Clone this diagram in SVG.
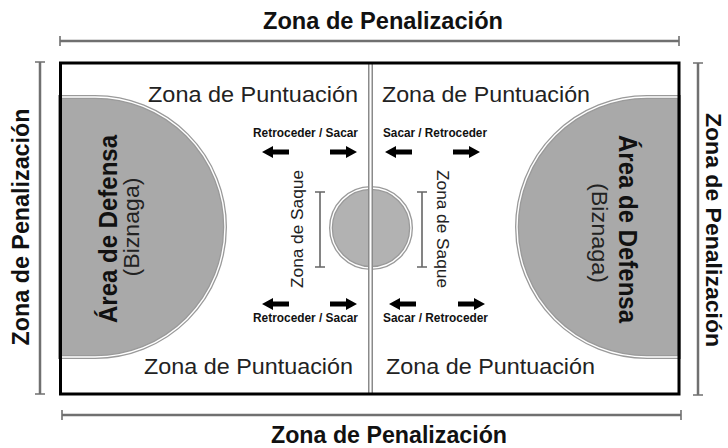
<svg xmlns="http://www.w3.org/2000/svg" xmlns:xlink="http://www.w3.org/1999/xlink" width="728" height="448" viewBox="0 0 728 448">
<style>
.title{font-family:"Liberation Sans",Arial,sans-serif;font-weight:bold;font-size:23px;fill:#111}
.zone{font-family:"Liberation Sans",Arial,sans-serif;font-size:22px;fill:#222}
.saque{font-family:"Liberation Sans",Arial,sans-serif;font-size:16px;fill:#222}
.small{font-family:"Liberation Sans",Arial,sans-serif;font-weight:bold;font-size:12px;fill:#111}
.def{font-family:"Liberation Sans",Arial,sans-serif;font-weight:bold;font-size:25px;fill:#111}
.biz{font-family:"Liberation Sans",Arial,sans-serif;font-size:22px;fill:#222}
.dim{stroke:#707070;stroke-width:2.5;fill:none}
.tick{stroke:#707070;stroke-width:1.6;fill:none}
.brk{stroke:#666;stroke-width:1.6;fill:none}
.shade-out{fill:#a9a9a9;stroke:#9a9a9a;stroke-width:4}
.shade-in{fill:none;stroke:#fff;stroke-width:1.4}
</style>
<defs>
<path id="arr" d="M0,-2.6 H16 V-6 L27,0 L16,6 V2.6 H0 Z" fill="#000"/>
</defs>
<rect width="728" height="448" fill="#fff"/>

<g id="dimensions">
<path class="dim" d="M60,41 H679 M62,415 H681 M40,62 V394 M698,63 V395"/>
<path class="tick" d="M60,36 V46 M679,36 V46 M62,410 V420 M681,410 V420 M35,62 H45 M35,394 H45 M693,63 H703 M693,395 H703"/>
</g>
<g id="titles">
<text class="title" x="383" y="28.5" text-anchor="middle" textLength="240" lengthAdjust="spacingAndGlyphs">Zona de Penalización</text>
<text class="title" x="389" y="443" text-anchor="middle" textLength="236" lengthAdjust="spacingAndGlyphs">Zona de Penalización</text>
<text class="title" transform="translate(29,227) rotate(-90)" text-anchor="middle" textLength="237" lengthAdjust="spacingAndGlyphs">Zona de Penalización</text>
<text class="title" transform="translate(706,230) rotate(90)" text-anchor="middle" textLength="234" lengthAdjust="spacingAndGlyphs" style="font-size:22px">Zona de Penalización</text>
</g>

<g id="court">
<rect x="60.5" y="63" width="618.5" height="331" fill="#fff" stroke="none"/>
<g id="defense-left">
<path class="shade-out" d="M60,97 H95 A130,130 0 0 1 95,357 H60 Z"/>
<path class="shade-in" d="M60,97 H95 A130,130 0 0 1 95,357 H60"/>
<text class="def" transform="translate(117,229) rotate(-90)" text-anchor="middle" textLength="188" lengthAdjust="spacingAndGlyphs">Área de Defensa</text>
<text class="biz" transform="translate(139,227) rotate(-90)" text-anchor="middle" textLength="99" lengthAdjust="spacingAndGlyphs">(Biznaga)</text>
</g>
<g id="defense-right">
<path class="shade-out" d="M679,97 H647 A130,130 0 0 0 647,357 H679 Z"/>
<path class="shade-in" d="M679,97 H647 A130,130 0 0 0 647,357 H679"/>
<text class="def" transform="translate(619,229) rotate(90)" text-anchor="middle" textLength="188" lengthAdjust="spacingAndGlyphs">Área de Defensa</text>
<text class="biz" transform="translate(592,233) rotate(90)" text-anchor="middle" textLength="100" lengthAdjust="spacingAndGlyphs">(Biznaga)</text>
</g>
<g id="center">
<circle cx="371" cy="228" r="40" class="shade-out" style="fill:#b2b2b2"/>
<circle cx="371" cy="228" r="40" class="shade-in"/>
<rect x="368" y="63" width="5" height="331" fill="#8a8a8a"/>
<rect x="369.5" y="63" width="2" height="331" fill="#fff"/>
</g>
<rect x="60.5" y="63" width="618.5" height="331" fill="none" stroke="#000" stroke-width="3"/>
</g>

<g id="scoring-zones">
<text class="zone" x="148" y="102" textLength="210" lengthAdjust="spacingAndGlyphs">Zona de Puntuación</text>
<text class="zone" x="382" y="102" textLength="208" lengthAdjust="spacingAndGlyphs">Zona de Puntuación</text>
<text class="zone" x="144" y="374" textLength="209" lengthAdjust="spacingAndGlyphs">Zona de Puntuación</text>
<text class="zone" x="386" y="374" textLength="209" lengthAdjust="spacingAndGlyphs">Zona de Puntuación</text>
</g>

<g id="serve-left">
<path class="brk" d="M320,192 V267 M315,192 H325 M315,267 H325"/>
<text class="saque" transform="translate(303,229) rotate(-90)" text-anchor="middle" textLength="118" lengthAdjust="spacingAndGlyphs">Zona de Saque</text>
</g>
<g id="serve-right">
<path class="brk" d="M422,192 V267 M417,192 H427 M417,267 H427"/>
<text class="saque" transform="translate(437,229) rotate(90)" text-anchor="middle" textLength="118" lengthAdjust="spacingAndGlyphs">Zona de Saque</text>
</g>

<g id="moves-top-left">
<text class="small" x="253" y="137" textLength="105" lengthAdjust="spacingAndGlyphs">Retroceder / Sacar</text>
<use xlink:href="#arr" transform="translate(289,152) scale(-1,1)"/>
<use xlink:href="#arr" transform="translate(330,152)"/>
</g>
<g id="moves-top-right">
<text class="small" x="383" y="137" textLength="104" lengthAdjust="spacingAndGlyphs">Sacar / Retroceder</text>
<use xlink:href="#arr" transform="translate(412,152) scale(-1,1)"/>
<use xlink:href="#arr" transform="translate(453,152)"/>
</g>
<g id="moves-bottom-left">
<use xlink:href="#arr" transform="translate(289,304) scale(-1,1)"/>
<use xlink:href="#arr" transform="translate(330,304)"/>
<text class="small" x="253" y="322" textLength="105" lengthAdjust="spacingAndGlyphs">Retroceder / Sacar</text>
</g>
<g id="moves-bottom-right">
<use xlink:href="#arr" transform="translate(416,304) scale(-1,1)"/>
<use xlink:href="#arr" transform="translate(458,304)"/>
<text class="small" x="383" y="322" textLength="105" lengthAdjust="spacingAndGlyphs">Sacar / Retroceder</text>
</g>
<g id="connectors"></g>
</svg>
